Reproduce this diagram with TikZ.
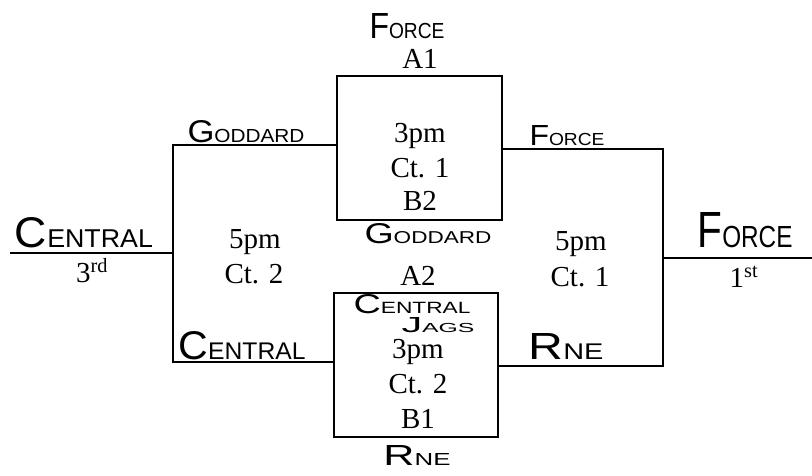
\documentclass[tikz,border=0pt]{standalone}
\usepackage{fontspec}
\setmainfont{Liberation Serif}
\newfontfamily\handfont{Liberation Sans}
\usepackage{graphicx}
% handwritten-style label: width, height of first letter, first letter, rest
\newcommand\hw[4]{\resizebox{#1pt}{#2pt}{\handfont{\fontsize{30}{30}\selectfont #3}{\fontsize{18}{18}\selectfont #4}}}
\begin{document}
\begin{tikzpicture}[x=1pt,y=-1pt,
  brk/.style={line width=1.2pt,black},
  box/.style={draw,line width=1.2pt,inner sep=0pt,minimum width=#1},
  box/.default=165pt,
  lbl/.style={anchor=base,inner sep=0pt,font=\fontsize{29}{29}\selectfont},
  hand/.style={anchor=base,inner sep=0pt}]
\useasboundingbox (0,0) rectangle (812,475);
% boxes
\node[box=165pt,minimum height=144pt] (tb) at (419.5,148) {};
\node[box=164pt,minimum height=144pt] (bb) at (416,365) {};
% bracket coordinates
\coordinate (ltop) at (173,145);
\coordinate (lbot) at (173,362);
\coordinate (lmid) at (173,253);
\coordinate (lend) at (10,253);
\coordinate (rtop) at (663,149);
\coordinate (rbot) at (663,366);
\coordinate (rmid) at (663,258);
\coordinate (rend) at (812,258);
\draw[brk] (tb.west |- ltop) -- (ltop) -- (lbot) -- (bb.west |- lbot);
\draw[brk] (lend) -- (lmid);
\draw[brk] (tb.east |- rtop) -- (rtop) -- (rbot) -- (bb.east |- rbot);
\draw[brk] (rmid) -- (rend);
% typed labels
\node[lbl] (a1) at (420,68) {A1};
\node[lbl] (t3) at (420,142) {3pm};
\node[lbl] (tc) at (420,177) {Ct. 1};
\node[lbl] (b2) at (420,210) {B2};
\node[lbl] (a2) at (418,285) {A2};
\node[lbl] (b3) at (418,358) {3pm};
\node[lbl] (bc) at (418,393) {Ct. 2};
\node[lbl] (b1) at (418,428) {B1};
\node[lbl] (l5) at (255,248) {5pm};
\node[lbl] (lc) at (254,283) {Ct. 2};
\node[lbl] (r5) at (581,250) {5pm};
\node[lbl] (rc) at (580,286) {Ct. 1};
\node[lbl] (third) at (92,282) {3\textsuperscript{rd}};
\node[lbl] (first) at (744,287) {1\textsuperscript{st}};
% handwritten labels
\node[hand] (hforce) at (407,38) {\hw{75}{25}{F}{ORCE}};
\node[hand] (hgod1) at (246,142) {\hw{117}{22}{G}{ODDARD}};
\node[hand] (hforce2) at (567,145) {\hw{75}{20}{F}{ORCE}};
\node[hand] (hgod2) at (428,243) {\hw{127}{20}{G}{ODDARD}};
\node[hand] (hcen1) at (412,313) {\hw{117}{19}{C}{ENTRAL}};
\node[hand] (hjags) at (438,332) {\hw{73}{15}{J}{AGS}};
\node[hand] (hrne1) at (417,465) {\hw{67}{20}{R}{NE}};
\node[hand] (hcen2) at (84,247) {\hw{138}{30}{C}{ENTRAL}};
\node[hand] (hcen3) at (242,359) {\hw{127}{28}{C}{ENTRAL}};
\node[hand] (hrne2) at (566,359) {\hw{75}{26}{R}{NE}};
\node[hand] (hforce3) at (745,247) {\hw{95}{35}{F}{ORCE}};
\end{tikzpicture}
\end{document}
